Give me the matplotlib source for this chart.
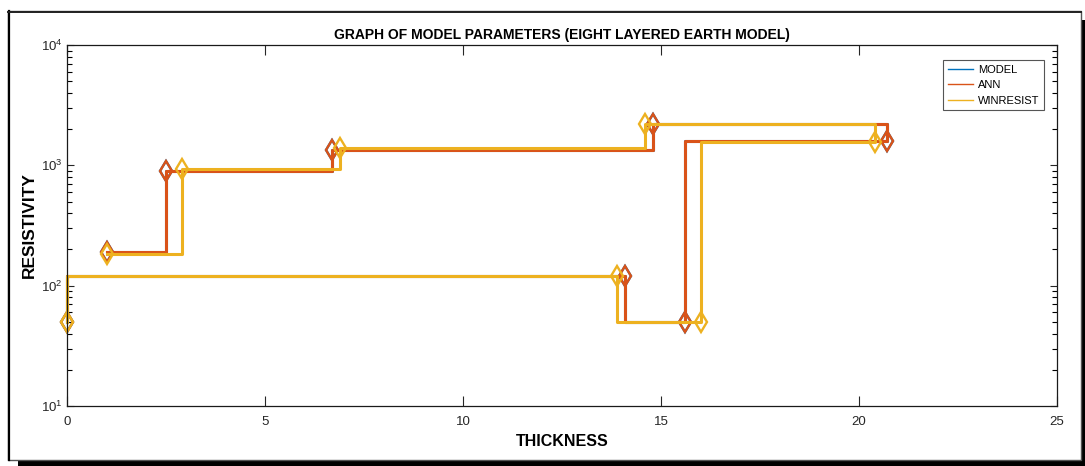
import matplotlib
matplotlib.use('Agg')
import matplotlib.pyplot as plt
from matplotlib.patches import Rectangle
from matplotlib.lines import Line2D
from matplotlib.ticker import LogLocator, NullFormatter

# layer parameters: cumulative thickness vs. resistivity, in plotting order
model_thickness = [1.0, 2.5, 6.7, 14.8, 20.7, 15.6, 14.1, 0.0]
model_resistivity = [190, 900, 1350, 2200, 1600, 50, 120, 50]

ann_thickness = [1.0, 2.5, 6.7, 14.8, 20.7, 15.6, 14.1, 0.0]
ann_resistivity = [190, 900, 1350, 2200, 1600, 50, 120, 50]

win_thickness = [1.0, 2.9, 6.9, 14.6, 20.4, 16.0, 13.9, 0.0]
win_resistivity = [183, 930, 1400, 2200, 1560, 50, 120, 50]

series_names = ['MODEL', 'ANN', 'WINRESIST']
series_colors = ['#0072BD', '#D95319', '#EDB120']

plt.rcParams['font.family'] = ['Liberation Sans', 'DejaVu Sans']
plt.rcParams['mathtext.fontset'] = 'custom'
plt.rcParams['mathtext.rm'] = 'Liberation Sans'

fig = plt.figure(figsize=(10.85, 4.66), dpi=100)

# framed panel with a drop shadow
W, H = 1085.0, 466.0
fig.patches.append(Rectangle((18 / W, -10 / H), 1080 / W, (466 - 20 + 10) / H,
                             transform=fig.transFigure, facecolor='black',
                             edgecolor='none', zorder=0))
fig.patches.append(Rectangle((8 / W, (466 - 460) / H), 1073 / W, 449 / H,
                             transform=fig.transFigure, facecolor='white',
                             edgecolor='#555555', linewidth=1.0, zorder=1))
fig.lines.append(Line2D([8.5 / W, 8.5 / W], [(466 - 460) / H, (466 - 11) / H],
                        transform=fig.transFigure, color='black', lw=1.6, zorder=2))
fig.lines.append(Line2D([8 / W, 1081 / W], [(466 - 11.5) / H, (466 - 11.5) / H],
                        transform=fig.transFigure, color='#222222', lw=1.4, zorder=2))

ax = fig.add_axes([67 / W, (466 - 406) / H, 990 / W, 361 / H])
ax.set_zorder(3)

data = [(model_thickness, model_resistivity),
        (ann_thickness, ann_resistivity),
        (win_thickness, win_resistivity)]

for (x, y), name, c in zip(data, series_names, series_colors):
    ax.step(x, y, where='post', color=c, lw=2.2, label=name, clip_on=False)
    ax.plot(x, y, linestyle='none', marker='d', markersize=10.5,
            markerfacecolor='none', markeredgecolor=c, markeredgewidth=1.7,
            clip_on=False)

ax.set_yscale('log')
ax.set_xlim(0, 25)
ax.set_ylim(10, 1e4)
ax.set_xticks([0, 5, 10, 15, 20, 25])
ax.yaxis.set_major_locator(LogLocator(base=10, numticks=10))
ax.yaxis.set_minor_locator(LogLocator(base=10, subs=range(2, 10), numticks=20))
ax.yaxis.set_minor_formatter(NullFormatter())

ax.tick_params(axis='x', which='major', direction='in', top=True, length=7.5,
               width=0.8, labelsize=9.5, pad=7, colors='#262626')
ax.tick_params(axis='y', which='major', direction='in', right=True, length=5,
               width=0.8, labelsize=9.5, pad=3, colors='#262626')
ax.tick_params(axis='y', which='minor', direction='in', right=True, length=3.5,
               width=0.8)
for s in ax.spines.values():
    s.set_linewidth(0.9)
    s.set_color('#1a1a1a')

ax.set_title('GRAPH OF MODEL PARAMETERS (EIGHT LAYERED EARTH MODEL)',
             fontsize=10, fontweight='bold', pad=4)
ax.set_xlabel('THICKNESS', fontsize=11.5, fontweight='bold')
ax.xaxis.set_label_coords(0.5, -0.078)
ax.set_ylabel('RESISTIVITY', fontsize=12.5, fontweight='bold')
ax.yaxis.set_label_coords(-0.0305, 0.5)

leg = ax.legend(loc='upper right', bbox_to_anchor=(0.987, 0.958),
                borderaxespad=0, fontsize=8, handlelength=2.3,
                handletextpad=0.45, labelspacing=0.5, borderpad=0.4,
                fancybox=False, framealpha=1, edgecolor='#555555')
leg.get_frame().set_linewidth(0.8)
for h in leg.get_lines():
    h.set_linewidth(1.0)

fig.savefig('out.png', dpi=100)
